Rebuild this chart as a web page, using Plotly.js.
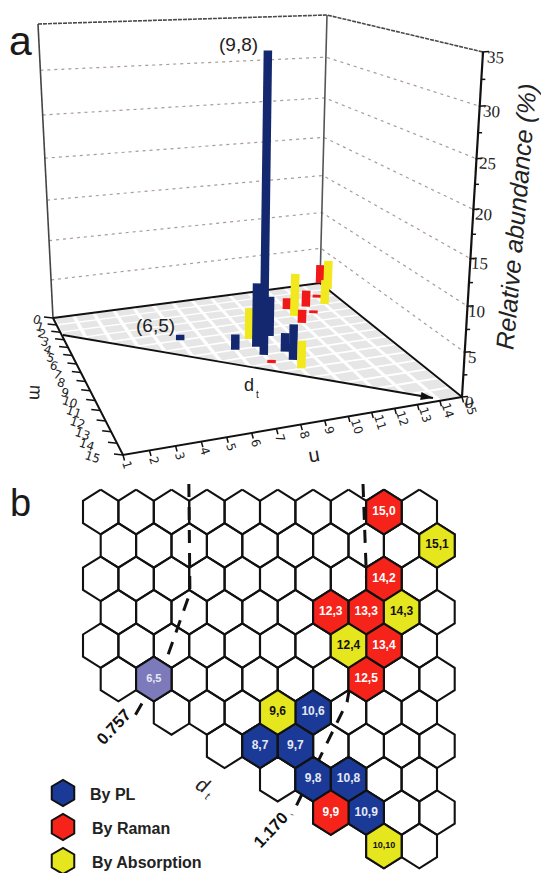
<!DOCTYPE html>
<html><head><meta charset="utf-8">
<script src="https://cdn.plot.ly/plotly-3.0.1.min.js"></script>
<style>html,body{margin:0;padding:0;background:#fff}#c{width:541px;height:873px}</style>
</head><body><div id="c"></div>
<script>
// ---------- Panel a data: abundance (%) by chirality (n,m)
const plN=[6,8,9,9,10,10,10], plM=[5,7,7,8,6,8,9], plV=[0.7,1.9,7.8,33.8,5,2.3,4.3];
const ramanN=[15,14,13,12,13,12,9], ramanM=[0,2,3,3,4,5,9], ramanV=[2.6,0.4,2.2,1.5,0.4,1.75,0.4];
const absN=[9,12,10,14,15], absM=[6,4,10,3,1], absV=[3.9,5.6,3.3,3.3,4];
const mTicks=[0,1,2,3,4,5,6,7,8,9,10,11,12,13,14,15];
const nTicks=[1,2,3,4,5,6,7,8,9,10,11,12,13,14,15];
const zTicks=[0,5,10,15,20,25,30,35];
// ---------- Panel b data: chirality map
const rowFirst=[0,0,0,0,0,0,2,3,5,6,8];
const rowLast=[9,9,9,9,9,9,9,9,9,9,9];
const plLabels=['10,6','8,7','9,7','9,8','10,8','10,9'], plRow=[6,7,7,8,8,9], plCol=[6,4,5,6,7,7];
const ramanLabels=['15,0','14,2','12,3','13,3','13,4','12,5','9,9'], ramanRow=[0,2,3,3,4,5,9], ramanCol=[8,8,6,7,8,7,6];
const absLabels=['15,1','14,3','12,4','9,6','10,10'], absRow=[1,3,4,6,10], absCol=[9,8,7,5,8];
const line757col=[2.49,2.52,1.82,0.88], line757row=[-0.84,2.43,4.52,6.26];
const line1170col=[7.41,7.52,6.96,5.4], line1170row=[-0.84,2.34,5.69,9.07];
const legendNames=['By PL','By Raman','By Absorption'];

// ---------- colours
const NAVY='#14286f',BARRED='#f01818',BARYEL='#f2e81e';
const HEXBLUE='#1b3a97',HEXRED='#f5231a',HEXYEL='#e6e61e',HEXPUR='#7d7abb';

// ---------- perspective box of panel a
const A=[53,318],D=[320,283],C=[462,397],B=[123,455];
const At=[38,24],Dt=[327,15],Ct=[483,52],Bt=[114,60];
function homog(p0,p1,p2,p3){
  const dx3=p0[0]-p1[0]+p2[0]-p3[0],dy3=p0[1]-p1[1]+p2[1]-p3[1];
  const dx1=p1[0]-p2[0],dy1=p1[1]-p2[1],dx2=p3[0]-p2[0],dy2=p3[1]-p2[1];
  const det=dx1*dy2-dx2*dy1;
  const g=(dx3*dy2-dx2*dy3)/det,h=(dx1*dy3-dx3*dy1)/det;
  const a=p1[0]-p0[0]+g*p1[0],b=p3[0]-p0[0]+h*p3[0],c=p0[0];
  const d=p1[1]-p0[1]+g*p1[1],e=p3[1]-p0[1]+h*p3[1],f=p0[1];
  return (u,v)=>{const w=g*u+h*v+1;return [(a*u+b*v+c)/w,(d*u+e*v+f)/w];};
}
const floorH=homog(A,D,C,B);
const topB=(u,v)=>[0,1].map(i=>At[i]*(1-u)*(1-v)+Dt[i]*u*(1-v)+Ct[i]*u*v+Bt[i]*(1-u)*v);
const uOf=n=>(n-1)/14, vOf=m=>m/15;
function proj(n,m,z){
  const u=uOf(n),v=vOf(m),t=z/35,tp=t/(t+(1-t)*1.12);
  const F=floorH(u,v),T=topB(u,v);
  return [F[0]+tp*(T[0]-F[0]),F[1]+tp*(T[1]-F[1])];
}
const traces=[];
function seg(pts,style,extra){
  traces.push(Object.assign({type:'scatter',mode:'lines',x:pts.map(p=>p?p[0]:null),y:pts.map(p=>p?p[1]:null),
    line:style,hoverinfo:'skip',showlegend:false,connectgaps:false},extra||{}));
}
// floor cells
const cx=[],cy=[],gap=0.09;
for(let n=1;n<15;n++)for(let m=0;m<15;m++){
  const q=[[n+gap,m+gap],[n+1-gap,m+gap],[n+1-gap,m+1-gap],[n+gap,m+1-gap],[n+gap,m+gap]];
  q.forEach(p=>{const r=proj(p[0],p[1],0);cx.push(r[0]);cy.push(r[1]);});
  cx.push(null);cy.push(null);
}
traces.push({type:'scatter',mode:'lines',x:cx,y:cy,fill:'toself',fillcolor:'#e6e6e6',line:{width:0,color:'#e6e6e6'},hoverinfo:'skip',showlegend:false});
// mask below the d_t line
const arrowStart=[63,335],arrowEnd=[433,398];
traces.push({type:'scatter',mode:'lines',x:[arrowStart[0],462,462,123,arrowStart[0]],y:[arrowStart[1],arrowEnd[1]+5,470,470,arrowStart[1]],
  fill:'toself',fillcolor:'#ffffff',line:{width:0,color:'#fff'},hoverinfo:'skip',showlegend:false});
// wall gridlines
zTicks.slice(1).forEach(z=>{
  const top=z===35;
  seg([proj(1,0,z),proj(15,0,z),proj(15,15,z)],top?{color:'#4a4a4a',width:1.6,dash:'4px,1px'}:{color:'#a89c94',width:1.2,dash:'3px,4px'});
});
// wall edges
seg([proj(1,0,0),proj(1,0,35)],{color:'#444',width:1.6});
seg([proj(15,0,0),proj(15,0,35)],{color:'#555',width:1.6});
// floor edges
seg([proj(1,0,0),proj(15,0,0),proj(15,15,0)],{color:'#111',width:2});
seg([proj(1,0,0),proj(1,15,0),proj(15,15,0)],{color:'#111',width:2});
seg([proj(15,15,0),proj(15,15,35)],{color:'#111',width:2.2});
// d_t arrow
seg([arrowStart,arrowEnd],{color:'#111',width:1.8});
traces.push({type:'scatter',mode:'markers',x:[arrowEnd[0]],y:[arrowEnd[1]],hoverinfo:'skip',showlegend:false,
  marker:{symbol:'arrow',size:13,angle:99.7,color:'#111',line:{width:0}}});
// ticks
const tk=[];
mTicks.forEach(m=>{const p=proj(1,m,0);tk.push(p,[p[0]-9,p[1]-1],null);});
nTicks.forEach(n=>{const p=proj(n,15,0);tk.push(p,[p[0]+1.5,p[1]+5.5],null);});
zTicks.forEach(z=>{const p=proj(15,15,z);tk.push([p[0]-1,p[1]],[p[0]+6,p[1]-0.5],null);
  if(z<35){const q=proj(15,15,z+2.5);tk.push(q,[q[0]+4,q[1]],null);}});
seg(tk,{color:'#111',width:1.5});
// bars, back to front
const bars=[];
function addBars(ns,ms,vs,col){ns.forEach((n,i)=>bars.push({n,m:ms[i],v:vs[i],col}));}
addBars(plN,plM,plV,NAVY);addBars(ramanN,ramanM,ramanV,BARRED);addBars(absN,absM,absV,BARYEL);
bars.sort((a,b)=>(a.m-0.3*a.n)-(b.m-0.3*b.n));
bars.forEach(b=>seg([proj(b.n,b.m,0),proj(b.n,b.m,b.v)],{color:b.col,width:8.5}));

// ---------- panel b, in lattice units through its own axes
const latX=(r,c)=>c+(r%2)*0.5;
const hexLine={color:'#111',width:2.1};
const hexDX=[0,0.5,0.5,0,-0.5,-0.5,0], hexDY=[-2/3,-1/3,1/3,2/3,1/3,-1/3,-2/3];
function hexPolys(rows,cols,color){
  const x=[],y=[];
  rows.forEach((r,i)=>{
    hexDX.forEach((d,k)=>{x.push(latX(r,cols[i])+d);y.push(r+hexDY[k]);});
    x.push(null);y.push(null);
  });
  traces.push({type:'scatter',mode:'lines',xaxis:'x2',yaxis:'y2',x,y,fill:'toself',fillcolor:color,line:hexLine,hoverinfo:'skip',showlegend:false});
}
const wr=[],wc=[];
rowFirst.forEach((f,r)=>{for(let c=f;c<=rowLast[r];c++){wr.push(r);wc.push(c);}});
hexPolys(wr,wc,'#ffffff');
[[line757col,line757row],[line1170col,line1170row]].forEach(l=>{
  traces.push({type:'scatter',mode:'lines',xaxis:'x2',yaxis:'y2',x:l[0],y:l[1],hoverinfo:'skip',showlegend:false,
    line:{color:'#111',width:3,dash:'13px,10px'}});
});
function hexGroup(labels,rows,cols,color,txt,sizes){
  hexPolys(rows,cols,color);
  traces.push({type:'scatter',mode:'text',xaxis:'x2',yaxis:'y2',
    x:rows.map((r,i)=>latX(r,cols[i])),y:rows,text:labels,textposition:'middle center',
    textfont:{family:'Liberation Sans',size:sizes,color:txt,weight:700},hoverinfo:'skip',showlegend:false});
}
hexGroup(plLabels,plRow,plCol,HEXBLUE,'#e4e8f6',plLabels.map(()=>12));
hexGroup(ramanLabels,ramanRow,ramanCol,HEXRED,'#ffffff',ramanLabels.map(()=>12));
hexGroup(absLabels,absRow,absCol,HEXYEL,'#111111',absLabels.map(l=>l==='10,10'?9:12));
hexGroup(['6,5'],[5],[1],HEXPUR,'#e8e8f4',[11]);
// legend
const legY=[793,827,861],legCol=[HEXBLUE,HEXRED,HEXYEL];
traces.push({type:'scatter',mode:'markers',x:legY.map(()=>63),y:legY,hoverinfo:'skip',showlegend:false,
  marker:{symbol:'hexagon',size:26,color:legCol,line:{color:'#111',width:2}}});

// ---------- text
const ann=[];
function T(x,y,text,o){ann.push(Object.assign({xref:'x',yref:'y',x,y,text,showarrow:false,xanchor:'center',yanchor:'middle',
  font:Object.assign({family:'Liberation Sans',color:'#222',size:14},(o||{}).font||{})},o&&o.angle!==undefined?{textangle:o.angle}:{}));}
T(20,41,'a',{font:{size:41,color:'#1a1a1a'}});
T(20,503,'b',{font:{size:38,color:'#1a1a1a'}});
T(238,44,'(9,8)',{font:{size:19}});
T(155,325,'(6,5)',{font:{size:19}});
T(249,385,'d',{font:{size:18}});
T(257,394,'t',{font:{size:10}});
T(36,392,'m',{angle:93,font:{size:18}});
T(315,458,'n',{angle:170,font:{size:20}});
T(516,217,'<i>Relative abundance (%)</i>',{angle:-85,font:{size:25}});
mTicks.forEach(m=>{const p=proj(1,m,0);T(p[0]-16-m,p[1]+2,String(m),{angle:18,font:{size:12,family:'DejaVu Sans'}});});
nTicks.forEach(n=>{const p=proj(n,15,0);T(p[0]+(n>=10?8:4),p[1]+10,String(n),{angle:72,font:{size:12,family:'DejaVu Sans'}});});
zTicks.forEach(z=>{const p=proj(15,15,z);T(p[0]+7+z*0.17,p[1]+5,String(z),{angle:3,font:{size:17,family:'Liberation Sans Narrow'}});});
T(113,727,'<b>0.757</b>',{angle:-47,font:{size:16.5,color:'#111'}});
T(270,830,'<b>1.170</b>',{angle:-47,font:{size:16.5,color:'#111'}});
T(203,785,'<i>d</i>',{angle:30,font:{size:20}});
T(208,796,'<i>t</i>',{angle:30,font:{size:11}});
legendNames.forEach((s,i)=>{ann.push({xref:'x',yref:'y',x:[88,90,90][i],y:legY[i]+1,text:'<b>'+s+'</b>',showarrow:false,xanchor:'left',yanchor:'middle',
  font:{family:'Liberation Sans',size:16,color:'#222'}});});

const hide={visible:false,fixedrange:true};
const layout={width:541,height:873,margin:{l:0,r:0,t:0,b:0},paper_bgcolor:'#fff',plot_bgcolor:'#fff',showlegend:false,
  xaxis:Object.assign({range:[0,541]},hide),yaxis:Object.assign({range:[873,0]},hide),
  xaxis2:Object.assign({range:[-100.7/35.4,(541-100.7)/35.4],overlaying:'x'},hide),
  yaxis2:Object.assign({range:[(873-512)/33.4,-512/33.4],overlaying:'y'},hide),
  annotations:ann};
Plotly.newPlot('c',traces,layout,{staticPlot:true,displayModeBar:false});
</script></body></html>
